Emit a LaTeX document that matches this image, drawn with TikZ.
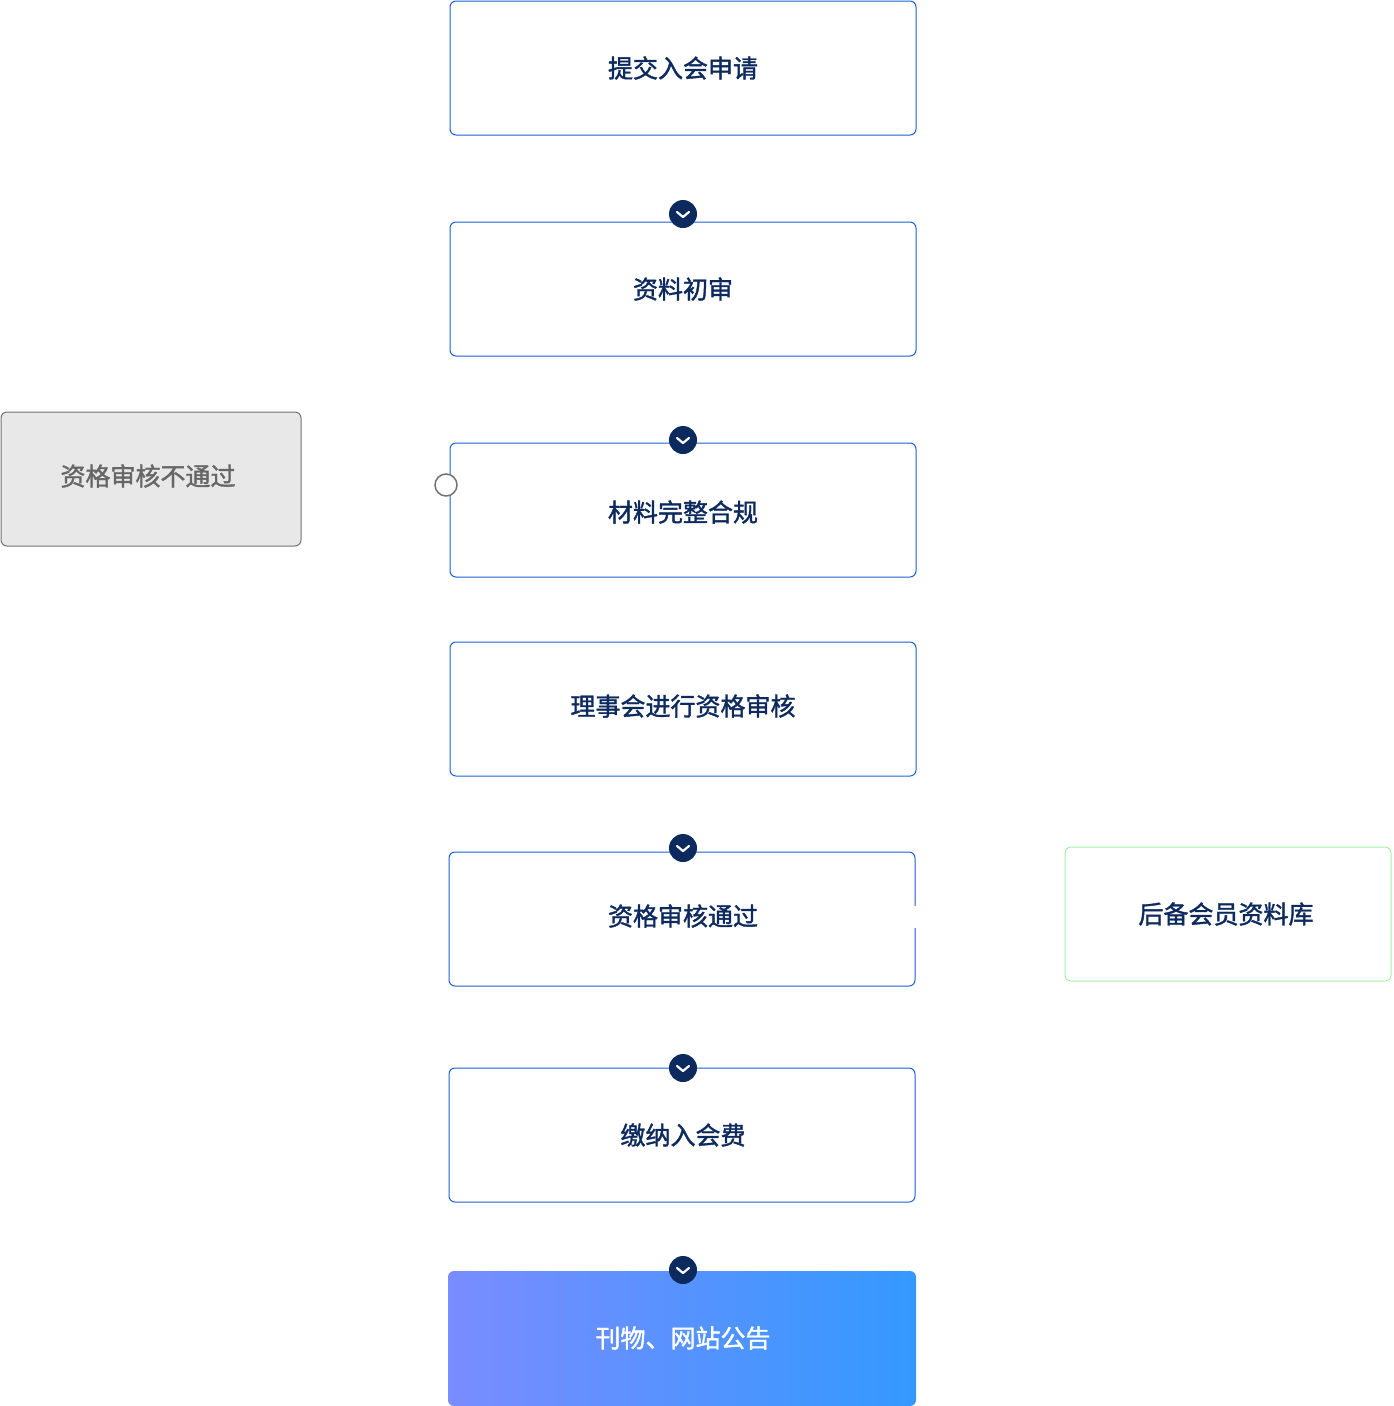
\documentclass[tikz,border=0pt]{standalone}
\usepackage{fontspec}
\newfontfamily\cjk{Noto Sans CJK SC}[FakeBold=1.5]
\definecolor{navy}{HTML}{0D2A5E}
\definecolor{bl}{HTML}{1A5FD6}
\definecolor{gl}{HTML}{A8F0A8}
\definecolor{gL}{HTML}{7A8CFF}
\definecolor{gR}{HTML}{3399FF}
\begin{document}
\begin{tikzpicture}[x=1pt,y=-1pt,
 box/.style={draw=bl,line width=1pt,rounded corners=6pt,fill=white},
 lab/.style={font=\cjk\fontsize{25}{30}\selectfont,text=navy},
 chev/.style={circle,fill=navy,minimum size=28pt,inner sep=0pt}]
\useasboundingbox (0,0) rectangle (1394,1406);
\draw[box] (450,1) rectangle (916,135);
\node[lab] (n1) at (683,68) {提交入会申请};
\draw[box] (450,222) rectangle (916,356);
\node[lab] (n2) at (683,289) {资料初审};
\draw[box] (450,443) rectangle (916,577);
\node[lab] (n3) at (683,512) {材料完整合规};
\draw[box] (450,642) rectangle (916,776);
\node[lab] (n4) at (683,706) {理事会进行资格审核};
\draw[box] (449,852) rectangle (915,986);
\fill[white] (912,906) rectangle (918,928);
\node[lab] (n5) at (683,916) {资格审核通过};
\draw[box] (449,1068) rectangle (915,1202);
\node[lab] (n6) at (683,1135) {缴纳入会费};
\shade[left color=gL,right color=gR,rounded corners=6pt] (448,1271) rectangle (916,1406);
\node[lab,text=white] (n7) at (683,1338) {刊物、网站公告};
\draw[draw=black!55,fill=black!9,rounded corners=6pt,line width=1pt] (1,412) rectangle (301,546);
\node[lab,text=black!60] (g) at (148,476) {资格审核不通过};
\draw[draw=gl,line width=1pt,rounded corners=6pt,fill=white] (1065,847) rectangle (1391,981);
\node[lab] (r) at (1226,914) {后备会员资料库};
\foreach \y/\n in {214/c1,440/c2,848/c3,1068/c4,1270/c5}{
 \node[chev] (\n) at (683,\y) {};
 \draw[white,line width=2.2pt,line cap=round,line join=round] (677,\y-2) -- (683,\y+3) -- (689,\y-2);
}
\node[circle,draw=black!55,fill=white,line width=1.5pt,minimum size=22pt,inner sep=0pt] (o) at (446,485) {};
\end{tikzpicture}
\end{document}
